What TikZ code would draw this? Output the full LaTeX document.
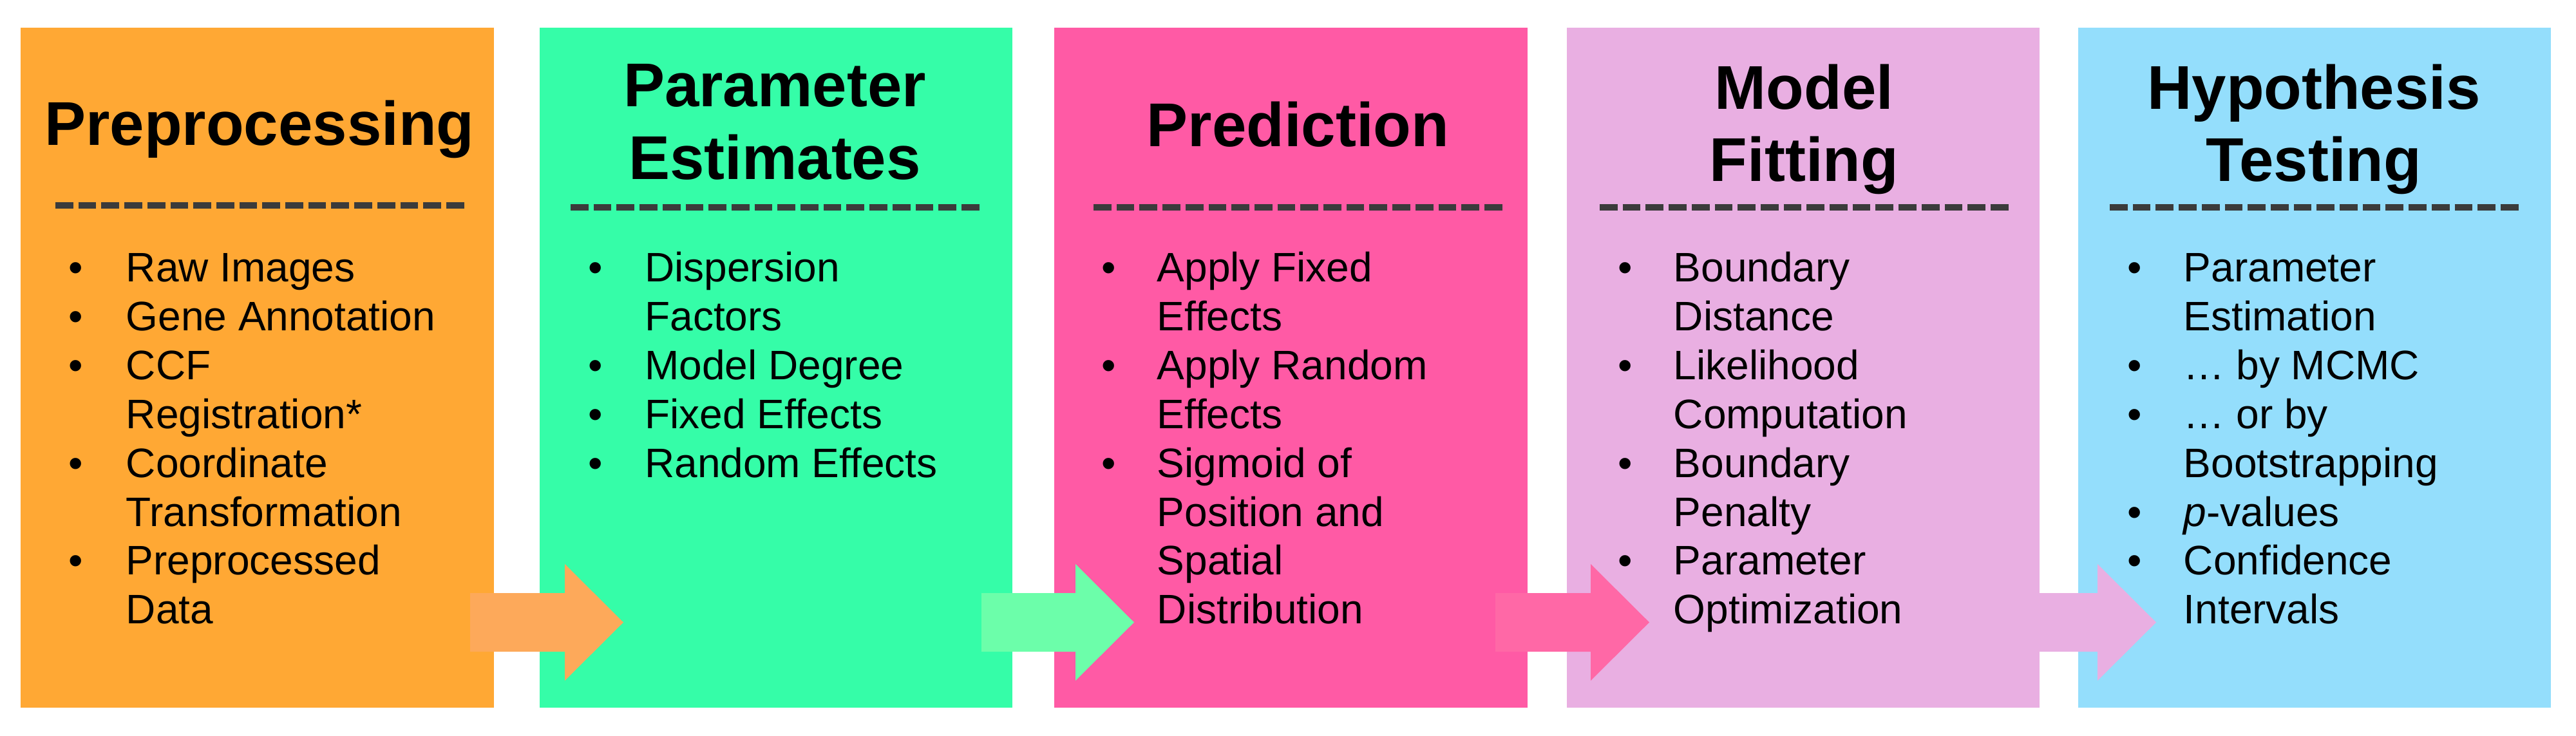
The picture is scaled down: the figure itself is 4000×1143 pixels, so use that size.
\documentclass[tikz,border=0pt]{standalone}
\usepackage{fontspec}
\setmainfont{Liberation Sans}
\usetikzlibrary{calc}
\definecolor{cOne}{HTML}{FFA834}
\definecolor{aOne}{HTML}{FDA95A}
\definecolor{cTwo}{HTML}{35FDA8}
\definecolor{aTwo}{HTML}{6CFEAA}
\definecolor{cThree}{HTML}{FF5AA5}
\definecolor{aThree}{HTML}{FF68A6}
\definecolor{cFour}{HTML}{E9AFE2}
\definecolor{aFour}{HTML}{E9AFE2}
\definecolor{cFive}{HTML}{94DEFC}
\definecolor{sepgray}{HTML}{3B3B3B}
\newcommand\blockarrow[3]{%
  \fill[#1] ($(#2)+(0,-45.5)$) -- ($(#3)+(-91,-45.5)$) -- ($(#3)+(-91,-90.5)$) -- (#3)
    -- ($(#3)+(-91,90.5)$) -- ($(#3)+(-91,45.5)$) -- ($(#2)+(0,45.5)$) -- cycle;}
\begin{document}
\begin{tikzpicture}[x=0.25pt,y=-0.25pt,
  stage/.style={minimum width=183.625pt,minimum height=264pt,inner sep=0pt,outer sep=0pt,draw=none},
  ttl/.style={font=\bfseries\fontsize{24}{28}\selectfont,anchor=base,inner sep=0pt},
  itm/.style={font=\fontsize{16}{19}\selectfont,anchor=base west,inner sep=0pt},
  bul/.style={font=\fontsize{16}{19}\selectfont,anchor=base,inner sep=0pt},
  sep/.style={draw=sepgray,line width=2.5pt,dash pattern=on 6.925pt off 2pt}]
\useasboundingbox (0,0) rectangle (4000,1143);
\fill[white] (0,0) rectangle (4000,1143);
% stage boxes
\node[stage,fill=cOne]   (b1) at (399.5,571) {};
\node[stage,fill=cTwo]   (b2) at (1205,571) {};
\node[stage,fill=cThree] (b3) at (2004.5,571) {};
\node[stage,fill=cFour]  (b4) at (2800,571) {};
\node[stage,fill=cFive]  (b5) at (3594,571) {};
% block arrows
\coordinate (a1s) at (730,966.5);  \coordinate (a1t) at (968,966.5);
\coordinate (a2s) at (1524,966.5); \coordinate (a2t) at (1761,966.5);
\coordinate (a3s) at (2322,966.5); \coordinate (a3t) at (2561,966.5);
\coordinate (a4s) at (3120,966.5); \coordinate (a4t) at (3348,966.5);
\blockarrow{aOne}{a1s}{a1t}
\blockarrow{aTwo}{a2s}{a2t}
\blockarrow{aThree}{a3s}{a3t}
\blockarrow{aFour}{a4s}{a4t}
% separators
\coordinate (d1a) at (86,319);   \coordinate (d1b) at (720.6,319);
\coordinate (d2a) at (886,322);  \coordinate (d2b) at (1520.6,322);
\coordinate (d3a) at (1698,322); \coordinate (d3b) at (2332.6,322);
\coordinate (d4a) at (2484,322); \coordinate (d4b) at (3118.6,322);
\coordinate (d5a) at (3276,322); \coordinate (d5b) at (3910.6,322);
\foreach \k in {1,...,5} \draw[sep] (d\k a) -- (d\k b);
% titles
\node[ttl] (t1) at (403,226) {Preprocessing};
\node[ttl] (t2a) at (1203,166) {Parameter};
\node[ttl] (t2b) at (1203,278.5) {Estimates};
\node[ttl] (t3) at (2015.5,228) {Prediction};
\node[ttl] (t4a) at (2801.5,170) {Model};
\node[ttl] (t4b) at (2801.5,282) {Fitting};
\node[ttl] (t5a) at (3593,170) {Hypothesis};
\node[ttl] (t5b) at (3593,282) {Testing};
% box 1 items
\foreach \t [count=\i] in {Raw Images, Gene Annotation, CCF, Registration*, Coordinate, Transformation, Preprocessed, Data}
  \node[itm] (p1l\i) at (195,{438+75.8*(\i-1)}) {\t};
\foreach \i in {1,2,3,5,7}
  \node[bul] (p1b\i) at (118,{438+75.8*(\i-1)}) {•};
% box 2 items
\foreach \t [count=\i] in {Dispersion, Factors, Model Degree, Fixed Effects, Random Effects}
  \node[itm] (p2l\i) at (1000.5,{438+75.8*(\i-1)}) {\t};
\foreach \i in {1,3,4,5}
  \node[bul] (p2b\i) at (925,{438+75.8*(\i-1)}) {•};
% box 3 items
\foreach \t [count=\i] in {Apply Fixed, Effects, Apply Random, Effects, Sigmoid of, Position and, Spatial, Distribution}
  \node[itm] (p3l\i) at (1796,{438+75.8*(\i-1)}) {\t};
\foreach \i in {1,3,5}
  \node[bul] (p3b\i) at (1722,{438+75.8*(\i-1)}) {•};
% box 4 items
\foreach \t [count=\i] in {Boundary, Distance, Likelihood, Computation, Boundary, Penalty, Parameter, Optimization}
  \node[itm] (p4l\i) at (2598,{438+75.8*(\i-1)}) {\t};
\foreach \i in {1,3,5,7}
  \node[bul] (p4b\i) at (2523.5,{438+75.8*(\i-1)}) {•};
% box 5 items
\foreach \t [count=\i] in {Parameter, Estimation, … by MCMC, … or by, Bootstrapping, \textit{p}-values, Confidence, Intervals}
  \node[itm] (p5l\i) at (3390,{438+75.8*(\i-1)}) {\t};
\foreach \i in {1,3,4,6,7}
  \node[bul] (p5b\i) at (3315,{438+75.8*(\i-1)}) {•};
\end{tikzpicture}
\end{document}
